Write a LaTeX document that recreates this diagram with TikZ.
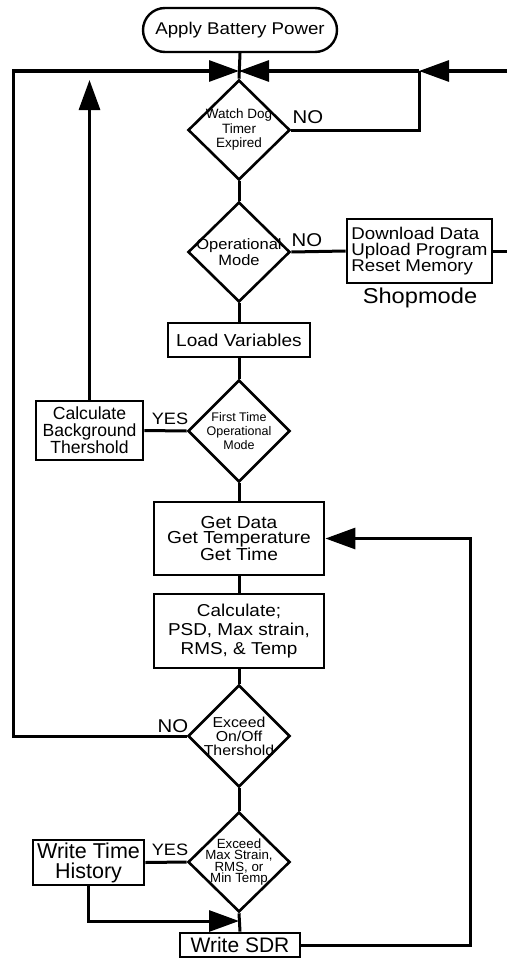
\documentclass[tikz,border=0pt]{standalone}
\usepackage{fontspec}
\setmainfont{Liberation Sans}
\newfontfamily\widefont{Liberation Sans}[FakeStretch=1.1]
\usetikzlibrary{shapes.geometric,arrows.meta}
\begin{document}
\begin{tikzpicture}[x=1pt,y=-1pt,
  box/.style={draw,line width=2.8pt,inner sep=0pt,align=center,font=\widefont\fontsize{17}{16}\selectfont},
  dia/.style={draw,diamond,line width=2.6pt,inner sep=0pt,minimum width=102pt,minimum height=100pt},
  dtext/.style={align=center,inner sep=0pt},
  conn/.style={line width=3pt},
  arr/.style={conn,-{Triangle[length=30pt,width=21pt]}},
  lbl/.style={inner sep=0pt,font=\widefont\fontsize{18.5}{18}\selectfont}
]
\useasboundingbox (0,0) rectangle (507,958);

% nodes
\node[box,rounded corners=22pt,line width=2.4pt,minimum width=194pt,minimum height=44pt] (apply) at (240,30) {Apply Battery Power};
\node[dia,label={[dtext,font=\fontsize{13.5}{14.5}\selectfont]center:{Watch Dog\\Timer\\Expired}}] (wd) at (239,130) {};
\node[dia,label={[dtext,font=\widefont\fontsize{15}{16}\selectfont]center:{Operational\\Mode}}] (op) at (239,252) {};
\node[box,align=left,minimum width=145pt,minimum height=64pt] (shop) at (419.5,251) {Download Data\\Upload Program\\Reset Memory};
\node[inner sep=0pt,font=\widefont\fontsize{21.5}{21}\selectfont] (shoplbl) at (420,298) {Shopmode};
\node[box,font=\widefont\fontsize{17.3}{16}\selectfont,minimum width=142pt,minimum height=34pt] (load) at (239,340) {Load Variables};
\node[dia,minimum height=102pt,label={[dtext,font=\fontsize{12.5}{14}\selectfont]center:{First Time\\Operational\\Mode}}] (ft) at (239,431) {};
\node[box,font=\fontsize{17.6}{16.3}\selectfont,minimum width=107pt,minimum height=59pt] (bg) at (89.5,430.5) {Calculate\\Background\\Thershold};
\node[box,font=\widefont\fontsize{17.4}{15.7}\selectfont,minimum width=170pt,minimum height=73pt] (gd) at (239,538.5) {Get Data\\Get Temperature\\Get Time};
\node[box,font=\widefont\fontsize{17.2}{19}\selectfont,minimum width=170pt,minimum height=74pt] (calc) at (239,631) {Calculate;\\PSD, Max strain,\\RMS, \& Temp};
\node[dia,minimum height=102pt,label={[dtext,font=\widefont\fontsize{14.4}{14}\selectfont]center:{Exceed\\On/Off\\Thershold}}] (onoff) at (239,736) {};
\node[dia,label={[dtext,font=\fontsize{13.3}{11.5}\selectfont]center:{Exceed\\Max Strain,\\RMS, or\\Min Temp}}] (maxd) at (239,862) {};
\node[box,font=\fontsize{21.5}{20}\selectfont,minimum width=111pt,minimum height=45pt] (wth) at (88.5,862.5) {Write Time\\History};
\node[box,font=\fontsize{21}{20}\selectfont,minimum width=120pt,minimum height=24pt] (sdr) at (240,945) {Write SDR};

% labels
\node[lbl] (no1) at (308,117) {NO};
\node[lbl] (no2) at (307,240) {NO};
\node[lbl,font=\widefont\fontsize{16.5}{16}\selectfont] (yes1) at (170,419) {YES};
\node[lbl] (no3) at (173,726) {NO};
\node[lbl,font=\widefont\fontsize{16.5}{16}\selectfont] (yes2) at (170,850) {YES};

% coordinates
\coordinate (J) at (239,71);
\coordinate (RJ) at (419,71);
\coordinate (RE) at (507,71);
\coordinate (LT) at (13,71);
\coordinate (SE) at (507,251);
\coordinate (BU) at (89.5,80);
\coordinate (JB) at (239,921);
\coordinate (SR) at (470,945);

% connectors
\draw[conn] (apply.south) -- (wd.north);
\draw[arr] (RE) -- (RJ);
\draw[arr] (RJ) -- (J);
\draw[conn] (wd.east) -| (RJ);
\draw[arr] (onoff.west) -| (LT) -- (J);
\draw[conn] (wd.south) -- (op.north);
\draw[conn] (op.east) -- (shop.west);
\draw[conn] (shop.east) -- (SE);
\draw[conn] (op.south) -- (load.north);
\draw[conn] (load.south) -- (ft.north);
\draw[conn] (ft.west) -- (bg.east);
\draw[arr] (bg.north) -- (BU);
\draw[conn] (ft.south) -- (gd.north);
\draw[conn] (gd.south) -- (calc.north);
\draw[conn] (calc.south) -- (onoff.north);
\draw[conn] (onoff.south) -- (maxd.north);
\draw[conn] (maxd.west) -- (wth.east);
\draw[conn] (maxd.south) -- (sdr.north);
\draw[arr] (wth.south) |- (JB);
\draw[arr] (sdr.east) -- (SR) |- (gd.east);
\end{tikzpicture}
\end{document}
